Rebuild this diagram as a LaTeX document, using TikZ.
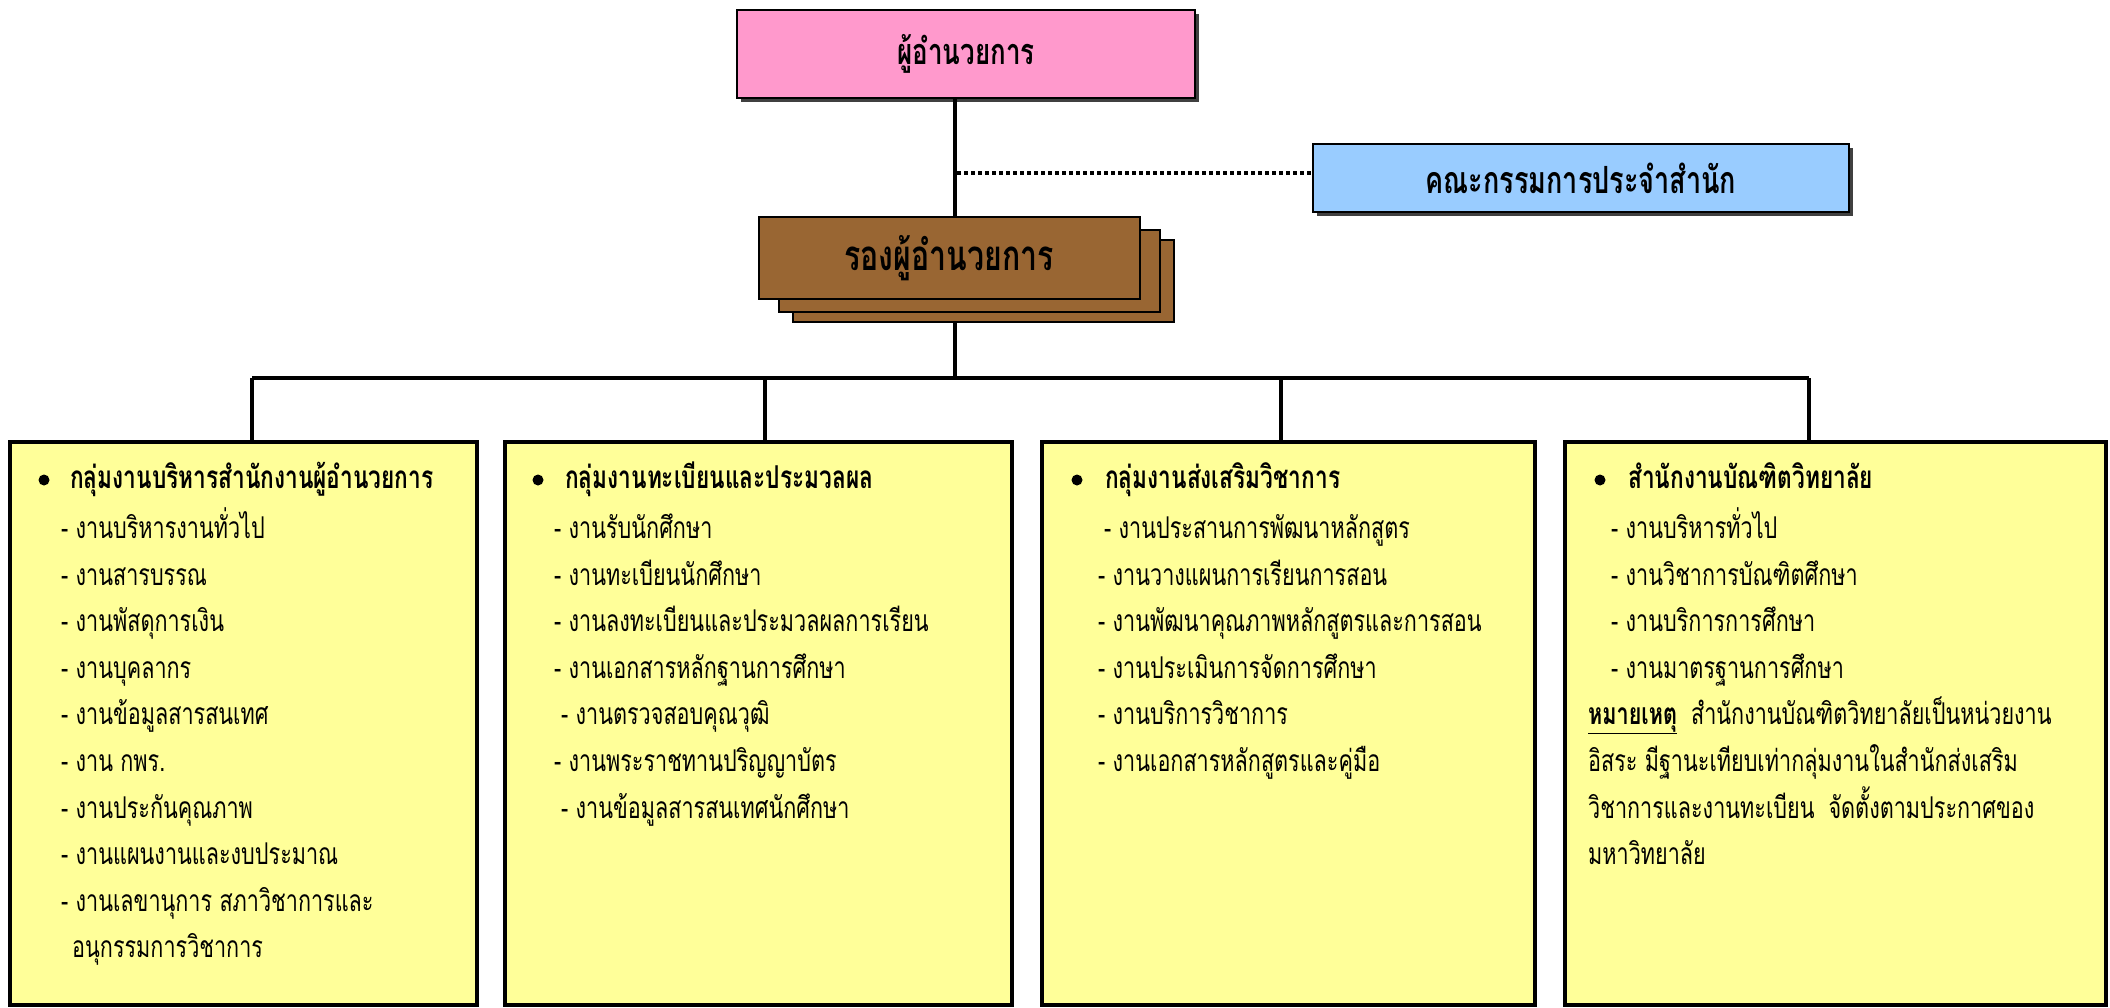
\documentclass[tikz,border=0pt]{standalone}
\usepackage{fontspec}
\setmainfont{Loma}[Script=Thai,FakeStretch=0.72]
\usetikzlibrary{shadows}
\definecolor{pinkbox}{HTML}{FF99CC}
\definecolor{bluebox}{HTML}{99CCFF}
\definecolor{brownbox}{HTML}{996633}
\definecolor{yellowbox}{HTML}{FFFF99}
\newcommand\bodysize{\fontsize{30}{36}\selectfont}
\newcommand\titlesize{\fontsize{31.5}{36}\selectfont\bfseries}
\newcommand\headsize{\fontsize{36}{42}\selectfont\bfseries}
\begin{document}
\begin{tikzpicture}[x=1pt,y=-1pt,
  boxshadow/.style={drop shadow={shadow xshift=4pt,shadow yshift=-4pt,opacity=1,fill=black!75}},
  headbox/.style={draw=black,line width=2.5pt,inner sep=0pt,font=\headsize,boxshadow},
  deputybox/.style={draw=black,line width=2pt,fill=brownbox,inner sep=0pt,minimum width=381pt,minimum height=82pt},
  groupbox/.style={draw=black,line width=4.5pt,fill=yellowbox,inner sep=0pt,minimum height=563pt},
  link/.style={line width=3.5pt},
  dotlink/.style={line width=4.5pt,dash pattern=on 4pt off 3pt},
  txt/.style={anchor=base west,inner sep=0pt,font=\bodysize},
  ttl/.style={anchor=base west,inner sep=0pt,font=\titlesize},
  bul/.style={fill=black}]
\useasboundingbox (0,0) rectangle (2110,1007);

% top boxes
\node[headbox,fill=pinkbox,minimum width=458pt,minimum height=88pt] (top) at (966,54) {ผู้อำนวยการ};
\node[headbox,fill=bluebox,minimum width=536pt,minimum height=68pt,font=\fontsize{37.5}{42}\selectfont\bfseries] (board) at (1581,178) {คณะกรรมการประจำสำนัก};
\node[deputybox] (dep3) at (983.5,281) {};
\node[deputybox] (dep2) at (969,270.5) {};
\node[deputybox,font=\fontsize{42}{48}\selectfont\bfseries] (dep) at (949,258) {รองผู้อำนวยการ};

% connector coordinates
\coordinate (spine) at (955,0);
\coordinate (bus) at (955,378);
\coordinate (d1) at (252,378);
\coordinate (d2) at (765,378);
\coordinate (d3) at (1281,378);
\coordinate (d4) at (1809,378);

% group boxes
\node[groupbox,minimum width=467pt] (g1) at (243.5,723.5) {};
\node[groupbox,minimum width=507pt] (g2) at (758.5,723.5) {};
\node[groupbox,minimum width=493pt] (g3) at (1288.5,723.5) {};
\node[groupbox,minimum width=541pt] (g4) at (1835.5,723.5) {};

% connectors
\draw[link] (top.south -| spine) -- (dep.north -| spine);
\draw[dotlink] (spine |- board.west) ++(2,-5) -- ([yshift=5pt]board.west);
\draw[link] (dep3.south -| spine) -- (bus);
\draw[link] (d1) -- (d4);
\draw[link] (d1) -- (d1 |- g1.north);
\draw[link] (d2) -- (d2 |- g2.north);
\draw[link] (d3) -- (d3 |- g3.north);
\draw[link] (d4) -- (d4 |- g4.north);

% group 1
\fill[bul] (44,480) circle (5.5);
\node[ttl] (t1) at (70,488) {กลุ่มงานบริหารสำนักงานผู้อำนวยการ};
\node[txt] (a1) at (61,538) {- งานบริหารงานทั่วไป};
\node[txt] (a2) at (61,585) {- งานสารบรรณ};
\node[txt] (a3) at (61,631) {- งานพัสดุการเงิน};
\node[txt] (a4) at (61,678) {- งานบุคลากร};
\node[txt] (a5) at (61,724) {- งานข้อมูลสารสนเทศ};
\node[txt] (a6) at (61,771) {- งาน กพร.};
\node[txt] (a7) at (61,818) {- งานประกันคุณภาพ};
\node[txt] (a8) at (61,864) {- งานแผนงานและงบประมาณ};
\node[txt] (a9) at (61,911) {- งานเลขานุการ สภาวิชาการและ};
\node[txt] (a10) at (72,957) {อนุกรรมการวิชาการ};

% group 2
\fill[bul] (538,480) circle (5.5);
\node[ttl] (t2) at (565,488) {กลุ่มงานทะเบียนและประมวลผล};
\node[txt] (b1) at (554,538) {- งานรับนักศึกษา};
\node[txt] (b2) at (554,585) {- งานทะเบียนนักศึกษา};
\node[txt] (b3) at (554,631) {- งานลงทะเบียนและประมวลผลการเรียน};
\node[txt] (b4) at (554,678) {- งานเอกสารหลักฐานการศึกษา};
\node[txt] (b5) at (561,724) {- งานตรวจสอบคุณวุฒิ};
\node[txt] (b6) at (554,771) {- งานพระราชทานปริญญาบัตร};
\node[txt] (b7) at (561,818) {- งานข้อมูลสารสนเทศนักศึกษา};

% group 3
\fill[bul] (1077,480) circle (5.5);
\node[ttl] (t3) at (1105,488) {กลุ่มงานส่งเสริมวิชาการ};
\node[txt] (c1) at (1104,538) {- งานประสานการพัฒนาหลักสูตร};
\node[txt] (c2) at (1098,585) {- งานวางแผนการเรียนการสอน};
\node[txt] (c3) at (1098,631) {- งานพัฒนาคุณภาพหลักสูตรและการสอน};
\node[txt] (c4) at (1098,678) {- งานประเมินการจัดการศึกษา};
\node[txt] (c5) at (1098,724) {- งานบริการวิชาการ};
\node[txt] (c6) at (1098,771) {- งานเอกสารหลักสูตรและคู่มือ};

% group 4
\fill[bul] (1600,480) circle (5.5);
\node[ttl] (t4) at (1628,488) {สำนักงานบัณฑิตวิทยาลัย};
\node[txt] (e1) at (1611,538) {- งานบริหารทั่วไป};
\node[txt] (e2) at (1611,585) {- งานวิชาการบัณฑิตศึกษา};
\node[txt] (e3) at (1611,631) {- งานบริการการศึกษา};
\node[txt] (e4) at (1611,678) {- งานมาตรฐานการศึกษา};
\node[txt] (n1) at (1588,724) {\underline{\textbf{หมายเหตุ}}\hspace{14pt}สำนักงานบัณฑิตวิทยาลัยเป็นหน่วยงาน};
\node[txt] (n2) at (1588,771) {อิสระ มีฐานะเทียบเท่ากลุ่มงานในสำนักส่งเสริม};
\node[txt] (n3) at (1588,818) {วิชาการและงานทะเบียน\hspace{14pt}จัดตั้งตามประกาศของ};
\node[txt] (n4) at (1588,864) {มหาวิทยาลัย};
\end{tikzpicture}
\end{document}
